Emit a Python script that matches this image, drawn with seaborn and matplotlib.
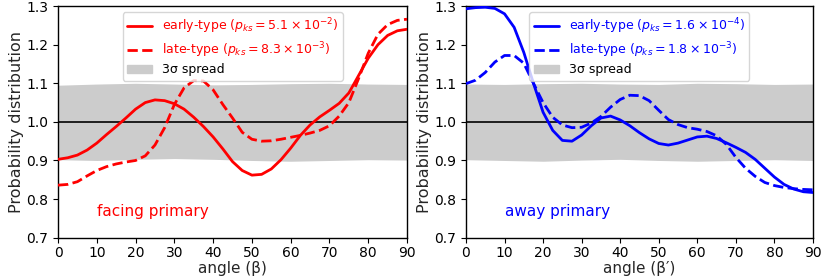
import numpy as np
import pandas as pd
import matplotlib
matplotlib.use("Agg")
import matplotlib.pyplot as plt
import seaborn as sns
from matplotlib.patches import Patch
from matplotlib.lines import Line2D

# ---------------- data ----------------
angle = [0, 2.5, 5, 7.5, 10, 12.5, 15, 17.5, 20, 22.5, 25, 27.5, 30, 32.5, 35,
         37.5, 40, 42.5, 45, 47.5, 50, 52.5, 55, 57.5, 60, 62.5, 65, 67.5, 70,
         72.5, 75, 77.5, 80, 82.5, 85, 87.5, 90]

facing_early = [0.903, 0.907, 0.914, 0.927, 0.945, 0.967, 0.988, 1.010, 1.033,
                1.050, 1.057, 1.055, 1.047, 1.033, 1.012, 0.988, 0.961, 0.930,
                0.897, 0.874, 0.862, 0.864, 0.878, 0.902, 0.932, 0.965, 0.992,
                1.013, 1.030, 1.048, 1.075, 1.120, 1.165, 1.200, 1.224, 1.236,
                1.240]
facing_late = [0.836, 0.838, 0.845, 0.860, 0.874, 0.884, 0.891, 0.896, 0.900,
               0.912, 0.940, 0.985, 1.045, 1.088, 1.107, 1.106, 1.083, 1.045,
               1.010, 0.973, 0.955, 0.950, 0.951, 0.955, 0.960, 0.965, 0.971,
               0.978, 0.990, 1.015, 1.050, 1.112, 1.178, 1.227, 1.252, 1.263,
               1.266]
away_early = [1.293, 1.296, 1.297, 1.294, 1.280, 1.245, 1.180, 1.100, 1.025,
              0.978, 0.952, 0.950, 0.966, 0.990, 1.010, 1.015, 1.005, 0.990,
              0.972, 0.956, 0.944, 0.940, 0.945, 0.953, 0.961, 0.963, 0.957,
              0.946, 0.934, 0.921, 0.903, 0.880, 0.857, 0.838, 0.826, 0.819,
              0.817]
away_late = [1.099, 1.108, 1.128, 1.155, 1.172, 1.172, 1.152, 1.100, 1.050,
             1.012, 0.992, 0.985, 0.986, 0.997, 1.014, 1.038, 1.058, 1.069,
             1.068, 1.055, 1.030, 1.006, 0.993, 0.985, 0.981, 0.975, 0.964,
             0.942, 0.908, 0.880, 0.859, 0.843, 0.835, 0.830, 0.827, 0.825,
             0.824]

band_angle = [0, 10, 20, 30, 40, 50, 60, 70, 80, 90]
facing_band_hi = [1.095, 1.098, 1.100, 1.098, 1.096, 1.097, 1.099, 1.100, 1.098, 1.097]
facing_band_lo = [0.902, 0.900, 0.903, 0.905, 0.903, 0.900, 0.898, 0.900, 0.902, 0.901]
away_band_hi = [1.098, 1.097, 1.099, 1.100, 1.098, 1.097, 1.100, 1.099, 1.097, 1.098]
away_band_lo = [0.902, 0.900, 0.898, 0.901, 0.903, 0.900, 0.898, 0.900, 0.902, 0.900]

facing_labels = [r"early-type ($p_{ks} = 5.1 \times 10^{-2}$)",
                 r"late-type ($p_{ks} = 8.3 \times 10^{-3}$)"]
away_labels = [r"early-type ($p_{ks} = 1.6 \times 10^{-4}$)",
               r"late-type ($p_{ks} = 1.8 \times 10^{-3}$)"]

# ---------------- style ----------------
sns.set_style("ticks")
plt.rcParams["font.family"] = ["DejaVu Sans"]
plt.rcParams["xtick.direction"] = "out"
plt.rcParams["ytick.direction"] = "out"

fig = plt.figure(figsize=(8.3, 2.77), dpi=100)
ax1 = fig.add_axes([0.0699, 0.1420, 0.4205, 0.8360])
ax2 = fig.add_axes([0.5614, 0.1420, 0.4181, 0.8360])

panels = [
    (ax1, facing_early, facing_late, facing_band_lo, facing_band_hi,
     facing_labels, "red", "facing primary", "angle (β)"),
    (ax2, away_early, away_late, away_band_lo, away_band_hi,
     away_labels, "blue", "away primary", "angle (β′)"),
]

for ax, early, late, lo, hi, labels, col, tag, xlab in panels:
    ax.fill_between(band_angle, lo, hi, color="#cccccc", linewidth=0, zorder=1)
    ax.axhline(1.0, color="black", lw=1.2, zorder=2)
    df = pd.DataFrame({"angle": angle, "early": early, "late": late})
    sns.lineplot(data=df, x="angle", y="early", ax=ax, color=col, lw=2.0,
                 zorder=3)
    sns.lineplot(data=df, x="angle", y="late", ax=ax, color=col, lw=2.0,
                 linestyle=(0, (3.7, 1.6)), zorder=3)
    ax.set_xlim(0, 90)
    ax.set_ylim(0.7, 1.3)
    ax.set_xticks(np.arange(0, 91, 10))
    ax.set_yticks(np.arange(0.7, 1.31, 0.1))
    ax.set_yticklabels([f"{v:.1f}" for v in np.arange(0.7, 1.31, 0.1)])
    ax.tick_params(labelsize=10, length=3.5, width=0.8, colors="black")
    ax.tick_params(axis="x", pad=2.5)
    ax.set_xlabel(xlab, fontsize=11, labelpad=0.5)
    ax.set_ylabel("Probability distribution", fontsize=11.5, labelpad=1.5)
    for s in ax.spines.values():
        s.set_visible(True)
        s.set_linewidth(1.0)
        s.set_color("black")
    ax.text(10, 0.768, tag, color=col, fontsize=11, va="center", ha="left")
    handles = [Line2D([], [], color=col, lw=2.0),
               Line2D([], [], color=col, lw=2.0, linestyle=(0, (3.7, 1.6))),
               Patch(facecolor="#cccccc", edgecolor="#cccccc")]
    leg = ax.legend(handles, labels + ["3σ spread"], loc="upper center",
                    fontsize=9, frameon=True, borderaxespad=0.5,
                    handlelength=2.0, labelspacing=0.3, borderpad=0.35)
    for t, c in zip(leg.get_texts(), [col, col, "black"]):
        t.set_color(c)

fig.savefig("out.png", dpi=100)
